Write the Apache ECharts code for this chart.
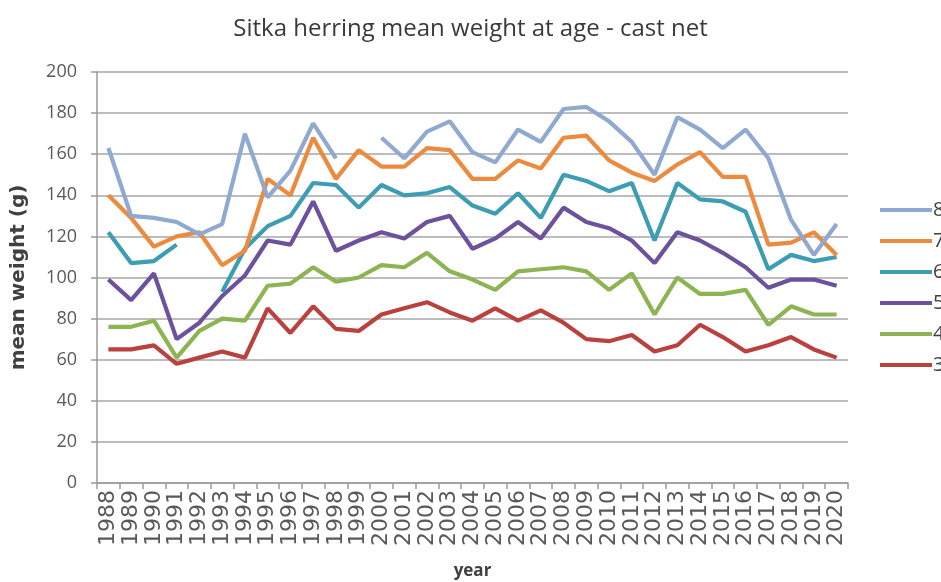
<!DOCTYPE html>
<html>
<head>
<meta charset="utf-8">
<title>Sitka herring mean weight at age</title>
<script src="https://cdn.jsdelivr.net/npm/echarts@6/dist/echarts.min.js"></script>
<style>
    html,body{margin:0;padding:0;background:#fff;}
    #main{width:941px;height:582px;}
</style>
</head>
<body>
<div id="main"></div>
<script>
//年份
let years = ['1988','1989','1990','1991','1992','1993','1994','1995','1996','1997','1998','1999','2000','2001','2002','2003','2004','2005','2006','2007','2008','2009','2010','2011','2012','2013','2014','2015','2016','2017','2018','2019','2020']
//各年龄平均体重 (g)
let age8 = [163,130,129,127,121,126,170,139,152,175,158,null,168,158,171,176,161,156,172,166,182,183,176,166,150,178,172,163,172,158,128,111,126]
let age7 = [140,129,115,120,122,106,113,148,140,168,148,162,154,154,163,162,148,148,157,153,168,169,157,151,147,155,161,149,149,116,117,122,111]
let age6 = [122,107,108,116,null,93,114,125,130,146,145,134,145,140,141,144,135,131,141,129,150,147,142,146,118,146,138,137,132,104,111,108,110]
let age5 = [99,89,102,70,78,91,101,118,116,137,113,118,122,119,127,130,114,119,127,119,134,127,124,118,107,122,118,112,105,95,99,99,96]
let age4 = [76,76,79,61,74,80,79,96,97,105,98,100,106,105,112,103,99,94,103,104,105,103,94,102,82,100,92,92,94,77,86,82,82]
let age3 = [65,65,67,58,61,64,61,85,73,86,75,74,82,85,88,83,79,85,79,84,78,70,69,72,64,67,77,71,64,67,71,65,61]
//图例名称
let ageNames = ['8','7','6','5','4','3']
let ageColors = ['#8fa9d0','#ec8a3e','#3d9db3','#6c519c','#8db452','#b9423f']

let myChart = echarts.init(document.getElementById('main'))

let allData = [age8, age7, age6, age5, age4, age3]
let series = []
allData.forEach((item, i) => {
    series.push({
        name: ageNames[i],
        type: 'line',
        data: item,
        symbol: 'none',
        connectNulls: false,
        lineStyle: {width: 4.2, color: ageColors[i]},
        itemStyle: {color: ageColors[i]},
        z: 10 - i
    })
})

let option = {
    backgroundColor: '#fff',
    animation: false,
    title: {
        text: 'Sitka herring mean weight at age - cast net',
        left: 'center',
        top: 12,
        textStyle: {fontFamily: 'Open Sans', fontSize: 24, fontWeight: 'normal', color: '#3a3a3a'}
    },
    legend: {
        orient: 'vertical',
        left: 875,
        top: 195,
        icon: 'rect',
        itemWidth: 52,
        itemHeight: 4,
        itemGap: 11,
        data: ageNames,
        textStyle: {fontFamily: 'Open Sans', fontSize: 20, color: '#404040', padding: [0, 0, 0, -4]}
    },
    grid: {left: 97, right: 93, top: 72, bottom: 99, containLabel: false, outerBoundsMode: 'none'},
    xAxis: {
        type: 'category',
        data: years,
        boundaryGap: true,
        name: 'year',
        nameLocation: 'middle',
        nameGap: 80,
        nameTextStyle: {fontFamily: 'Open Sans', fontSize: 17, fontWeight: 'bold', color: '#404040'},
        axisLine: {lineStyle: {color: '#9a9a9a', width: 1.5}},
        axisTick: {show: true, length: 6, lineStyle: {color: '#9a9a9a', width: 1.5}},
        axisLabel: {rotate: 90, interval: 0, margin: 7, fontFamily: 'DejaVu Sans', fontSize: 22, color: '#595959'}
    },
    yAxis: {
        type: 'value',
        min: 0,
        max: 200,
        interval: 20,
        name: 'mean weight (g)',
        nameLocation: 'middle',
        nameGap: 68,
        nameTextStyle: {fontFamily: 'DejaVu Sans', fontSize: 20, fontWeight: 'bold', color: '#404040'},
        axisLine: {show: true, lineStyle: {color: '#9a9a9a', width: 1.5}},
        axisTick: {show: true, length: 6, lineStyle: {color: '#9a9a9a', width: 1.5}},
        axisLabel: {margin: 20, fontFamily: 'Open Sans', fontSize: 18, color: '#595959'},
        splitLine: {lineStyle: {color: '#a6a6a6', width: 1.5}}
    },
    series: series
}
myChart.setOption(option)
</script>
</body>
</html>
